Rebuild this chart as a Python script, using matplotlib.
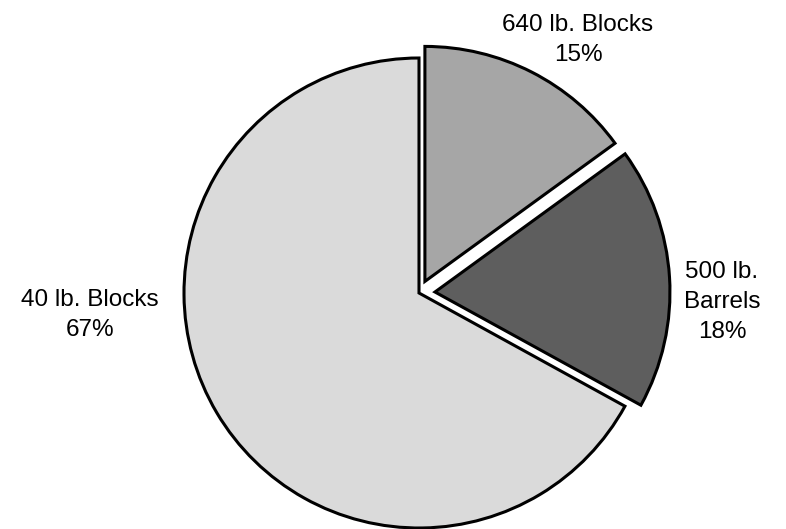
import matplotlib.pyplot as plt

# data
labels = ['640 lb. Blocks', '500 lb.\nBarrels', '40 lb. Blocks']
shares = [15, 18, 67]
colors = ['#a6a6a6', '#5e5e5e', '#dadada']
explode = [13, 16, 0]  # offsets in data units (pixels here)

plt.rcParams['font.family'] = ['Liberation Sans', 'DejaVu Sans']

fig = plt.figure(figsize=(7.86, 5.29), dpi=100)
ax = fig.add_axes([0, 0, 1, 1])

center = (419, 236)
radius = 235
ax.pie(shares, colors=colors, explode=explode, startangle=90, counterclock=False,
       center=center, radius=radius, frame=True,
       wedgeprops=dict(edgecolor='black', linewidth=2.2))
ax.set_xlim(0, 786)
ax.set_ylim(0, 529)
ax.set_aspect('equal')
ax.axis('off')

# labels placed outside the wedges
label_pos = [(578, 489), (722, 227), (90, 214)]
for lab, val, (x, y) in zip(labels, shares, label_pos):
    ax.text(x, y, f'{lab}\n{val}%', ha='center', va='center', fontsize=17.5,
            linespacing=1.5)

fig.savefig('out.png', dpi=100)
